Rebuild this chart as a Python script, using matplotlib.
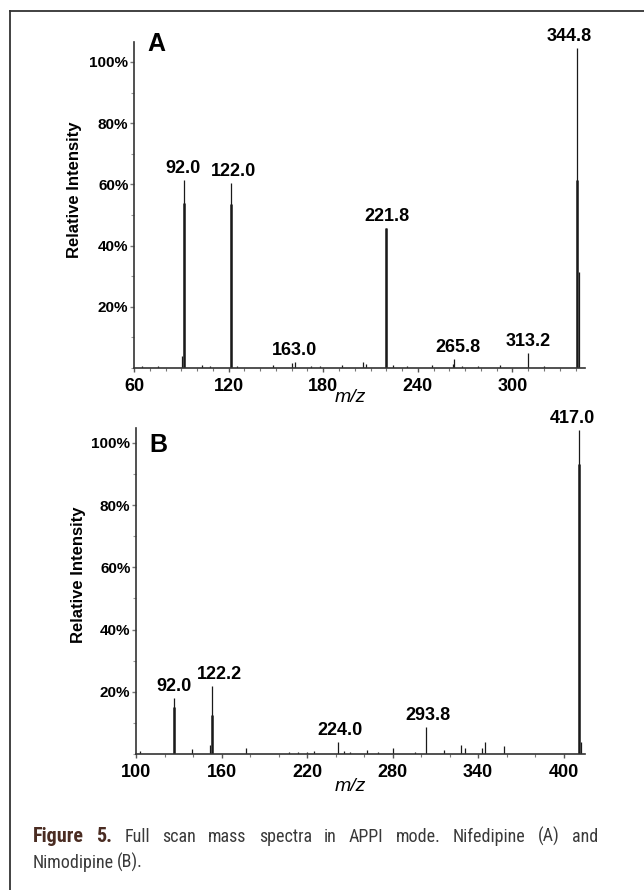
import matplotlib
matplotlib.use("Agg")
import matplotlib.pyplot as plt
from matplotlib import font_manager
from matplotlib.ticker import MultipleLocator
from matplotlib.lines import Line2D

plt.rcParams['font.family'] = ['Liberation Sans', 'DejaVu Sans']

# --- spectrum A (nifedipine) ---
mz_a = [91.7, 121.6, 162.0, 219.7, 263.0, 310.0, 341.0]
lab_a = ['92.0', '122.0', '163.0', '221.8', '265.8', '313.2', '344.8']
top_a = [61.4, 60.5, 2.0, 45.8, 2.9, 4.9, 104.6]
core_a = [53.9, 53.6, 0.0, 45.8, 0.0, 0.0, 61.4]
noise_mz_a = [65, 75, 90.5, 103, 108, 125, 148, 160, 172, 178, 192, 205, 207,
              224, 233, 249, 262, 268, 278, 292, 320, 342.3]
noise_int_a = [0.5, 0.5, 4.0, 1.0, 0.8, 0.5, 1.0, 1.5, 0.5, 0.5, 1.0, 2.0, 1.2,
               1.0, 0.6, 1.0, 1.2, 0.6, 0.6, 1.0, 0.5, 31.4]

# --- spectrum B (nimodipine) ---
mz_b = [126.7, 153.0, 242.0, 303.5, 411.0]
lab_b = ['92.0', '122.2', '224.0', '293.8', '417.0']
top_b = [18.0, 21.9, 3.9, 8.7, 104.2]
core_b = [15.1, 12.5, 0.0, 0.0, 93.2]
noise_mz_b = [103, 139, 152, 177, 207, 214, 220, 225, 246, 250, 262, 270, 280,
              296, 316, 328, 331, 343, 345, 358, 412]
noise_int_b = [1.0, 1.5, 3.0, 2.0, 0.5, 0.8, 0.8, 1.0, 1.0, 0.8, 1.2, 0.8, 2.0,
               0.5, 1.3, 3.0, 2.0, 2.0, 3.8, 2.5, 4.0]

yticks = [20, 40, 60, 80, 100]
ytick_labels = ['20%', '40%', '60%', '80%', '100%']
xticks_a = [60, 120, 180, 240, 300]
xticks_b = [100, 160, 220, 280, 340, 400]

W, H = 644, 890
fig = plt.figure(figsize=(W / 100, H / 100), dpi=100)
ink = '#1a1a1a'


def pix_axes(left, top, right, bottom):
    return fig.add_axes([left / W, 1 - bottom / H, (right - left) / W, (bottom - top) / H])


def spectrum(ax, mz, tops, cores, labels, nmz, nint, xlim, ylim, xticks, minor,
             letter, letter_y, label_dx):
    ax.vlines(nmz, 0, nint, color=ink, lw=0.9)
    ax.vlines(mz, 0, tops, color=ink, lw=0.9)
    ax.vlines(mz, 0, cores, color=ink, lw=1.8)
    for x, y, s, dx in zip(mz, tops, labels, label_dx):
        ax.annotate(s, (x, y), xytext=(dx, 2), textcoords='offset points',
                    ha='center', va='bottom', fontsize=13, fontweight='bold')
    ax.set_xlim(*xlim)
    ax.set_ylim(*ylim)
    for side in ('top', 'right'):
        ax.spines[side].set_visible(False)
    for side in ('left', 'bottom'):
        ax.spines[side].set_linewidth(1.2)
        ax.spines[side].set_color('#333333')
    ax.set_xticks(xticks)
    ax.set_xticklabels([str(t) for t in xticks], fontsize=13, fontweight='bold')
    ax.xaxis.set_minor_locator(MultipleLocator(minor))
    ax.set_yticks(yticks)
    ax.set_yticklabels(ytick_labels, fontsize=11, fontweight='bold')
    ax.yaxis.set_minor_locator(MultipleLocator(10))
    ax.tick_params(axis='x', which='major', length=3, width=1, pad=4, color='#555555')
    ax.tick_params(axis='x', which='minor', length=2, width=0.8, color='#777777')
    ax.tick_params(axis='y', which='major', length=3, width=1, pad=1, color='#777777')
    ax.tick_params(axis='y', which='minor', length=2, width=0.8, color='#999999')
    ax.text(0.03, letter_y, letter, transform=ax.transAxes,
            fontsize=18, fontweight='bold', va='top', ha='left')


ax_a = pix_axes(134, 42, 585, 368)
spectrum(ax_a, mz_a, top_a, core_a, lab_a, noise_mz_a, noise_int_a,
         (60, 346), (0, 106.5), xticks_a, 10, 'A', 1.03, [-1, 2, 0, 1, 3, 0, -6])
ax_a.set_ylabel('Relative Intensity', fontsize=12, fontweight='bold')
ax_a.yaxis.set_label_coords(-0.115, 0.546)
ax_a.text(0.479, -0.092, 'm/z', transform=ax_a.transAxes, fontsize=14,
          style='italic', ha='center', va='center')

ax_b = pix_axes(136, 428, 585, 754)
spectrum(ax_b, mz_b, top_b, core_b, lab_b, noise_mz_b, noise_int_b,
         (100, 415), (0, 104.8), xticks_b, 20, 'B', 0.985, [0, 6, 1, 1, -5])
ax_b.set_ylabel('Relative Intensity', fontsize=12, fontweight='bold')
ax_b.yaxis.set_label_coords(-0.111, 0.549)
ax_b.text(0.477, -0.101, 'm/z', transform=ax_b.transAxes, fontsize=14,
          style='italic', ha='center', va='center')

# frame around the figure
fig.add_artist(Line2D([10 / W, 1], [1 - 11 / H] * 2, transform=fig.transFigure,
                      color='#333333', lw=1.3))
fig.add_artist(Line2D([10 / W] * 2, [1 - 11 / H, 0], transform=fig.transFigure,
                      color='#333333', lw=1.3))

# caption in a narrow face when one is installed
installed = {(f.name, f.stretch) for f in font_manager.fontManager.ttflist}
cap_family, cap_stretch, cap_size, bold_size = 'Liberation Sans', 'normal', 11, 12
for name in ['Liberation Sans Narrow', 'DejaVu Sans Condensed', 'Roboto Condensed',
             'Open Sans Condensed', 'Noto Sans Condensed']:
    if any(n == name for n, s in installed):
        cap_family, cap_size, bold_size = name, 13, 14.5
        break
else:
    for n, s in installed:
        if n == 'DejaVu Sans' and s in ('condensed', 'semi-condensed'):
            cap_family, cap_stretch, cap_size = 'DejaVu Sans', 'condensed', 12
            break

renderer = fig.canvas.get_renderer()


def caption_line(words, bold_count, y_px, x0, x1=None):
    texts = []
    for i, w in enumerate(words):
        bold = i < bold_count
        texts.append(fig.text(0, 1 - y_px / H, w, family=[cap_family, 'DejaVu Sans'],
                              stretch=cap_stretch,
                              fontsize=bold_size if bold else cap_size,
                              fontweight='bold' if bold else 'normal',
                              color='#4a2c22' if bold else '#3a3a3a',
                              va='baseline', ha='left'))
    widths = [t.get_window_extent(renderer).width for t in texts]
    if x1 is None:
        gap = 3.0
    else:
        gap = (x1 - x0 - sum(widths)) / (len(words) - 1)
    x = x0
    for t, w in zip(texts, widths):
        t.set_x(x / W)
        x += w + gap


caption_line(['Figure', '5.', 'Full', 'scan', 'mass', 'spectra', 'in', 'APPI', 'mode.',
              'Nifedipine', '(A)', 'and'], 2, 842, 33, 598)
caption_line(['Nimodipine', '(B).'], 0, 868, 33)

fig.savefig('out.png', dpi=100)
